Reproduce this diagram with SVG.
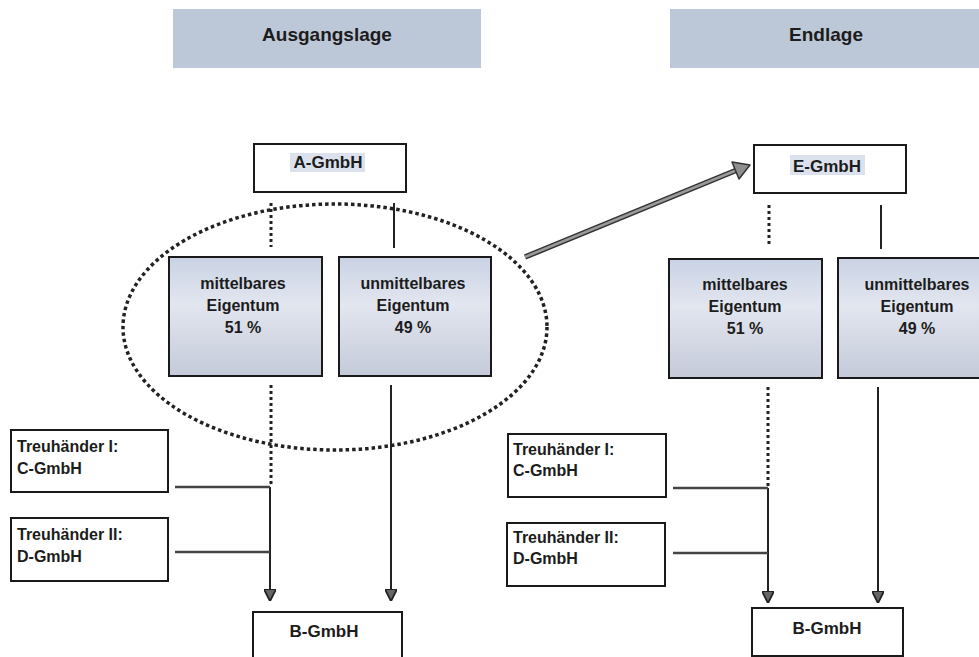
<svg xmlns="http://www.w3.org/2000/svg" width="979" height="657" viewBox="0 0 979 657">
<style>
text{font-family:"Liberation Sans",Arial,sans-serif;font-weight:bold;fill:#1c1c1c}
.hdr{fill:#bcc7d7}
.hdrt{font-size:19px;text-anchor:middle}
.box{fill:#fff;stroke:#1a1a1a;stroke-width:2}
.own{fill:url(#g);stroke:#1a1a1a;stroke-width:2}
.t17{font-size:17px;text-anchor:middle}
.t16c{font-size:16px;text-anchor:middle}
.t16{font-size:16px}
.hl{fill:#dbe2ee}
.solid{stroke:#222;stroke-width:2;fill:none}
.dot{stroke:#222;stroke-width:3;stroke-dasharray:3 3;fill:none}
.hor{stroke:#444;stroke-width:2.5;fill:none}
.arr{stroke:#222;stroke-width:2;fill:none;marker-end:url(#ah)}
</style>
<defs>
<linearGradient id="g" x1="0" y1="0" x2="0" y2="1">
<stop offset="0" stop-color="#c9d2e4"/>
<stop offset="0.4" stop-color="#e2e6ef"/>
<stop offset="1" stop-color="#c4cad9"/>
</linearGradient>
<marker id="ah" viewBox="0 0 10 10" refX="9" refY="5" markerWidth="6" markerHeight="6" orient="auto" markerUnits="strokeWidth">
<path d="M0,0 L10,5 L0,10 Z" fill="#666" stroke="#222" stroke-width="1.5"/>
</marker>
</defs>

<g id="hdr-ausgangslage">
<rect class="hdr" x="173" y="9" width="308" height="59"/>
<text class="hdrt" x="327" y="41">Ausgangslage</text>
</g>
<g id="hdr-endlage">
<rect class="hdr" x="670" y="9" width="309" height="59"/>
<text class="hdrt" x="826" y="41">Endlage</text>
</g>

<g id="connectors">
<line class="dot" x1="271" y1="203" x2="271" y2="247"/>
<line class="solid" x1="394" y1="203" x2="394" y2="248"/>
<line class="dot" x1="271" y1="385" x2="271" y2="487"/>
<path class="arr" d="M270,487 L270,600"/>
<path class="arr" d="M391,385 L391,600"/>
<line class="hor" x1="175" y1="487" x2="270" y2="487"/>
<line class="hor" x1="175" y1="552" x2="270" y2="552"/>
<ellipse cx="335" cy="327" rx="212" ry="123" fill="none" stroke="#222" stroke-width="3.5" stroke-dasharray="3.5 3"/>

<line class="dot" x1="769" y1="205" x2="769" y2="247"/>
<line class="solid" x1="881" y1="205" x2="881" y2="249"/>
<line class="dot" x1="768" y1="387" x2="768" y2="488"/>
<path class="arr" d="M768,488 L768,602"/>
<path class="arr" d="M878,387 L878,602"/>
<line class="hor" x1="673" y1="488" x2="768" y2="488"/>
<line class="hor" x1="673" y1="553" x2="768" y2="553"/>

<g id="big-arrow">
<line x1="525" y1="257" x2="737" y2="170" stroke="#333" stroke-width="5.5"/>
<line x1="525" y1="257" x2="737" y2="170" stroke="#9a9a9a" stroke-width="2.5"/>
<polygon points="750,165 732,162 739,179" fill="#8e8e8e" stroke="#333" stroke-width="1.5" stroke-linejoin="round"/>
</g>
</g>

<g id="a-gmbh">
<rect class="box" x="254" y="144" width="152" height="48"/>
<rect class="hl" x="290" y="153" width="75" height="19"/>
<text class="t17" x="328" y="168">A-GmbH</text>
</g>
<g id="mittelbar-l">
<rect class="own" x="169" y="257" width="153" height="119"/>
<text class="t16c" x="243" y="289">mittelbares</text>
<text class="t16c" x="243" y="311">Eigentum</text>
<text class="t16c" x="243" y="333">51 %</text>
</g>
<g id="unmittelbar-l">
<rect class="own" x="339" y="257" width="152" height="119"/>
<text class="t16c" x="413" y="289">unmittelbares</text>
<text class="t16c" x="413" y="311">Eigentum</text>
<text class="t16c" x="413" y="333">49 %</text>
</g>
<g id="treu1-l">
<rect class="box" x="11" y="430" width="157" height="62"/>
<text class="t16" x="17" y="452">Treuhänder I:</text>
<text class="t16" x="17" y="474">C-GmbH</text>
</g>
<g id="treu2-l">
<rect class="box" x="11" y="518" width="157" height="63"/>
<text class="t16" x="17" y="540">Treuhänder II:</text>
<text class="t16" x="17" y="562">D-GmbH</text>
</g>
<g id="b-gmbh-l">
<rect class="box" x="253" y="612" width="149" height="50"/>
<text class="t17" x="324" y="637">B-GmbH</text>
</g>

<g id="e-gmbh">
<rect class="box" x="754" y="145" width="152" height="48"/>
<rect class="hl" x="790" y="155" width="75" height="20"/>
<text class="t17" x="827" y="172">E-GmbH</text>
</g>
<g id="mittelbar-r">
<rect class="own" x="669" y="259" width="153" height="119"/>
<text class="t16c" x="745" y="290">mittelbares</text>
<text class="t16c" x="745" y="312">Eigentum</text>
<text class="t16c" x="745" y="334">51 %</text>
</g>
<g id="unmittelbar-r">
<rect class="own" x="838" y="258" width="152" height="120"/>
<text class="t16c" x="917" y="290">unmittelbares</text>
<text class="t16c" x="917" y="312">Eigentum</text>
<text class="t16c" x="917" y="334">49 %</text>
</g>
<g id="treu1-r">
<rect class="box" x="508" y="434" width="158" height="63"/>
<text class="t16" x="513" y="455">Treuhänder I:</text>
<text class="t16" x="513" y="476">C-GmbH</text>
</g>
<g id="treu2-r">
<rect class="box" x="507" y="523" width="158" height="63"/>
<text class="t16" x="513" y="543">Treuhänder II:</text>
<text class="t16" x="513" y="564">D-GmbH</text>
</g>
<g id="b-gmbh-r">
<rect class="box" x="752" y="608" width="151" height="48"/>
<text class="t17" x="827" y="634">B-GmbH</text>
</g>
</svg>
